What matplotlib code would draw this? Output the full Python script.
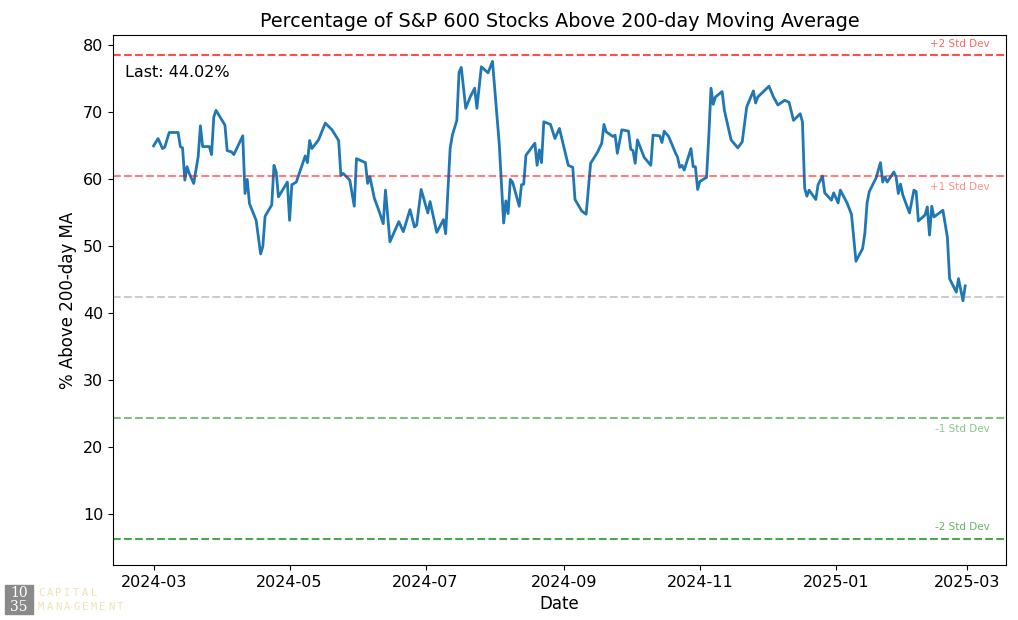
import pandas as pd
from matplotlib import pyplot as plt
from matplotlib import dates as dts
from matplotlib.patches import Rectangle

START = '2024-03-01'

# day offset from START, % of stocks above 200-day MA
days = [0, 2, 4, 5, 7, 11, 12, 13, 14, 15, 16, 18, 20, 21, 22, 25, 26, 27, 28, 32,
	33, 35, 36, 40, 41, 42, 43, 46, 48, 49, 50, 53, 54, 55, 56, 60, 61, 62, 64, 68,
	69, 70, 71, 74, 77, 80, 83, 84, 85, 88, 90, 91, 95, 96, 97, 99, 101, 103, 104, 106,
	110, 112, 115, 117, 118, 120, 123, 124, 127, 130, 131, 133, 134, 136, 137, 138, 140, 142, 144, 145,
	147, 150, 152, 155, 157, 158, 159, 160, 161, 164, 165, 166, 167, 171, 172, 173, 174, 175, 178, 180,
	182, 186, 188, 189, 192, 194, 196, 199, 201, 202, 203, 206, 207, 208, 210, 213, 214, 215, 216, 217,
	220, 223, 224, 227, 228, 229, 231, 234, 235, 236, 237, 238, 241, 242, 243, 244, 245, 248, 249, 250,
	251, 252, 255, 256, 259, 262, 264, 266, 269, 270, 271, 276, 278, 280, 283, 285, 287, 290, 291, 292,
	293, 294, 297, 298, 300, 301, 304, 305, 307, 308, 311, 313, 315, 318, 319, 320, 321, 324, 326, 327,
	328, 329, 332, 333, 334, 335, 336, 339, 341, 342, 343, 346, 347, 348, 349, 350, 354, 356, 357, 360,
	361, 363, 364]
pct = [64.9, 66.0, 64.5, 64.7, 66.9, 66.9, 64.8, 64.6, 59.8, 61.8, 60.8, 59.3, 63.3, 67.9, 64.8, 64.8, 63.6, 69.2, 70.2, 68.0,
	64.2, 64.0, 63.6, 66.4, 57.8, 59.9, 56.3, 53.8, 48.8, 49.9, 54.4, 56.1, 62.0, 61.0, 57.3, 59.5, 53.8, 59.1, 59.5, 63.4,
	62.4, 65.7, 64.5, 65.8, 68.3, 67.3, 65.7, 60.5, 60.8, 59.8, 55.9, 63.0, 62.4, 59.3, 60.3, 57.1, 55.3, 53.3, 58.3, 50.6,
	53.6, 52.1, 55.4, 52.8, 53.1, 58.4, 54.9, 56.6, 52.0, 53.9, 51.8, 64.5, 66.5, 68.7, 75.9, 76.6, 70.5, 72.2, 73.5, 70.5,
	76.7, 75.8, 77.5, 65.3, 53.4, 56.7, 54.8, 59.9, 59.5, 55.9, 59.1, 59.2, 63.5, 65.3, 62.0, 64.3, 62.4, 68.5, 68.1, 66.0,
	67.5, 62.0, 61.7, 56.9, 55.2, 54.7, 62.3, 63.9, 65.3, 68.1, 67.0, 66.3, 66.5, 63.8, 67.3, 67.1, 64.4, 64.2, 62.3, 65.8,
	63.2, 62.0, 66.5, 66.4, 65.4, 67.1, 66.3, 63.9, 63.2, 61.7, 62.0, 61.3, 64.5, 61.8, 61.8, 58.4, 59.6, 60.2, 66.3, 73.5,
	71.1, 72.2, 73.0, 70.2, 65.8, 64.6, 65.5, 70.7, 73.1, 71.3, 72.2, 73.8, 72.2, 71.0, 71.7, 71.4, 68.7, 69.7, 68.5, 58.6,
	57.4, 58.3, 56.9, 59.1, 60.4, 57.9, 56.8, 57.9, 56.4, 58.3, 56.4, 54.7, 47.7, 49.6, 51.9, 56.4, 58.1, 60.1, 62.4, 59.5,
	60.3, 59.5, 61.0, 60.3, 57.8, 59.2, 57.6, 54.9, 58.3, 58.1, 53.7, 54.6, 55.8, 51.6, 55.9, 54.3, 55.3, 51.3, 45.1, 43.1,
	45.1, 41.8, 44.02]

MEAN = 42.32
STD = 18.03

dates = pd.Timestamp(START) + pd.to_timedelta(days, unit='D')

fig = plt.figure(figsize=(10.18, 6.2), dpi=100)
ax = fig.add_axes([0.111, 0.0887, 0.877, 0.855])

ax.plot(dates, pct, color='#1f77b4', linewidth=2)

ax.axhline(MEAN, color='gray', linestyle='--', alpha=0.4, linewidth=1.5)
ax.axhline(MEAN + STD, color='red', linestyle='--', alpha=0.5, linewidth=1.5)
ax.axhline(MEAN + 2 * STD, color='red', linestyle='--', alpha=0.7, linewidth=1.5)
ax.axhline(MEAN - STD, color='green', linestyle='--', alpha=0.5, linewidth=1.5)
ax.axhline(MEAN - 2 * STD, color='green', linestyle='--', alpha=0.7, linewidth=1.5)

tx = 0.982
yt = ax.get_yaxis_transform()
ax.text(tx, MEAN + 2 * STD + 1.0, '+2 Std Dev', transform=yt, ha='right', va='bottom', fontsize=7.5, color='red', alpha=0.6)
ax.text(tx, MEAN + STD - 0.8, '+1 Std Dev', transform=yt, ha='right', va='top', fontsize=7.5, color='red', alpha=0.45)
ax.text(tx, MEAN - STD - 0.8, '-1 Std Dev', transform=yt, ha='right', va='top', fontsize=7.5, color='green', alpha=0.45)
ax.text(tx, MEAN - 2 * STD + 1.0, '-2 Std Dev', transform=yt, ha='right', va='bottom', fontsize=7.5, color='green', alpha=0.6)

ax.text(0.014, 0.93, 'Last: 44.02%', transform=ax.transAxes, ha='left', va='center', fontsize=11.5)

ax.set_ylim(2.4, 81.45)
ax.xaxis.set_major_locator(dts.MonthLocator(bymonth=[1, 3, 5, 7, 9, 11]))
ax.xaxis.set_major_formatter(dts.DateFormatter('%Y-%m'))
ax.tick_params(labelsize=11.5)

ax.set_title('Percentage of S&P 600 Stocks Above 200-day Moving Average', fontsize=13.8)
ax.set_xlabel('Date', fontsize=12)
ax.set_ylabel('% Above 200-day MA', fontsize=12)

# logo bottom left
fig.patches.append(Rectangle((5 / 1018, 6 / 620), 28 / 1018, 29 / 620, transform=fig.transFigure, color='#8a8a8a'))
fig.text(19 / 1018, 27 / 620, '10', ha='center', va='center', color='white', fontsize=10, family='DejaVu Serif')
fig.text(19 / 1018, 13 / 620, '35', ha='center', va='center', color='white', fontsize=10, family='DejaVu Serif')
for i, ch in enumerate('CAPITAL'):
	fig.text((41 + i * 8.8) / 1018, 27 / 620, ch, ha='center', va='center', color='#efe2b4', fontsize=7.5, family='DejaVu Sans Mono')
for i, ch in enumerate('MANAGEMENT'):
	fig.text((41 + i * 8.8) / 1018, 13 / 620, ch, ha='center', va='center', color='#efe2b4', fontsize=7.5, family='DejaVu Sans Mono')

fig.savefig('out.png', dpi=100)
